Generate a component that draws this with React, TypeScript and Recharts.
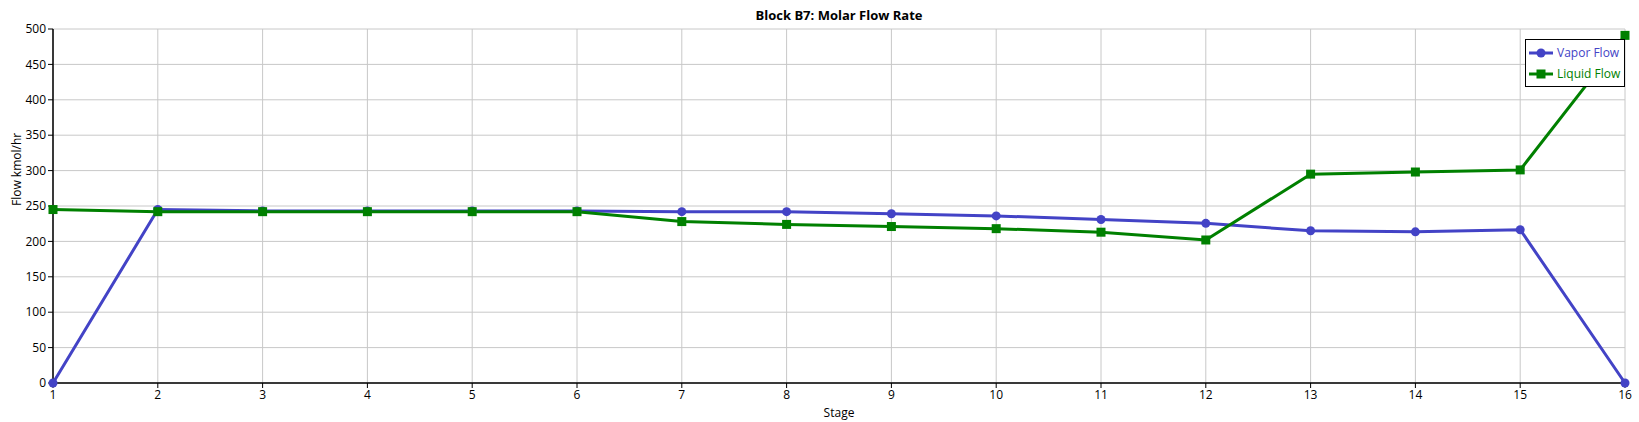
import { LineChart, Line, XAxis, YAxis, CartesianGrid } from 'recharts';

const stages = [1, 2, 3, 4, 5, 6, 7, 8, 9, 10, 11, 12, 13, 14, 15, 16];
const vaporFlow = [0, 245, 243, 243, 243, 243, 242, 242, 239, 236, 231, 225.5, 215, 213.5, 216.5, 0];
const liquidFlow = [245, 242, 242, 242, 242, 242, 228, 224, 221, 218, 213, 202, 295, 298, 301, 491];
const yTicks = [0, 50, 100, 150, 200, 250, 300, 350, 400, 450, 500];

const VAPOR = '#4343c6';
const LIQUID = '#008000';
const FONT = '"Open Sans", "DejaVu Sans", sans-serif';

const data = stages.map((s, i) => ({ stage: s, vapor: vaporFlow[i], liquid: liquidFlow[i] }));

const SquareDot = (props: any) => {
  const { cx, cy } = props;
  if (cx == null || cy == null) return null;
  return <rect x={cx - 4.5} y={cy - 4.5} width={9} height={9} fill={LIQUID} />;
};

const LegendBox = () => (
  <div
    style={{
      position: 'absolute',
      top: 39,
      left: 1525,
      width: 92,
      border: '1px solid #000',
      background: '#fff',
      padding: '2px 3px',
      fontFamily: FONT,
      fontSize: 12,
      lineHeight: '21px',
    }}
  >
    <div style={{ display: 'flex', alignItems: 'center', color: VAPOR }}>
      <svg width={24} height={12} style={{ marginRight: 4 }}>
        <line x1={0} y1={6} x2={24} y2={6} stroke={VAPOR} strokeWidth={3} />
        <circle cx={12} cy={6} r={4.5} fill={VAPOR} />
      </svg>
      Vapor Flow
    </div>
    <div style={{ display: 'flex', alignItems: 'center', color: LIQUID }}>
      <svg width={24} height={12} style={{ marginRight: 4 }}>
        <line x1={0} y1={6} x2={24} y2={6} stroke={LIQUID} strokeWidth={3} />
        <rect x={7.5} y={1.5} width={9} height={9} fill={LIQUID} />
      </svg>
      Liquid Flow
    </div>
  </div>
);

export default function App() {
  return (
    <div style={{ position: 'absolute', left: 0, top: 0, width: 1639, height: 422, background: '#fff', overflow: 'hidden' }}>
      <div
        style={{
          position: 'absolute',
          top: 6,
          left: 53,
          width: 1572,
          textAlign: 'center',
          fontFamily: FONT,
          fontWeight: 'bold',
          fontSize: 13,
          color: '#000',
        }}
      >
        Block B7: Molar Flow Rate
      </div>
      <LineChart width={1639} height={422} data={data} margin={{ top: 29, right: 14, bottom: 0, left: 0 }}>
        <CartesianGrid stroke="#c8c8c8" strokeWidth={1} />
        <XAxis
          dataKey="stage"
          type="number"
          domain={[1, 16]}
          ticks={stages}
          interval={0}
          axisLine={{ stroke: '#000', strokeWidth: 1.5 }}
          tickLine={{ stroke: '#000' }}
          tickSize={5}
          tick={{ fill: '#000', fontSize: 12, fontFamily: FONT }}
          label={{ value: 'Stage', position: 'insideBottom', offset: 5, fill: '#000', fontSize: 12, fontFamily: FONT }}
          height={39}
        />
        <YAxis
          type="number"
          domain={[0, 500]}
          ticks={yTicks}
          interval={0}
          width={53}
          axisLine={{ stroke: '#000', strokeWidth: 1.5 }}
          tickLine={{ stroke: '#000' }}
          tickSize={5}
          tick={{ fill: '#000', fontSize: 12, fontFamily: FONT }}
          label={{ value: 'Flow kmol/hr', angle: -90, position: 'insideLeft', offset: 17, fill: '#000', fontSize: 12, fontFamily: FONT }}
        />
        <Line
          dataKey="vapor"
          stroke={VAPOR}
          strokeWidth={3}
          dot={{ r: 4.5, fill: VAPOR, stroke: VAPOR, strokeWidth: 0 }}
          isAnimationActive={false}
        />
        <Line
          dataKey="liquid"
          stroke={LIQUID}
          strokeWidth={3}
          dot={<SquareDot />}
          isAnimationActive={false}
        />
      </LineChart>
      <LegendBox />
    </div>
  );
}
